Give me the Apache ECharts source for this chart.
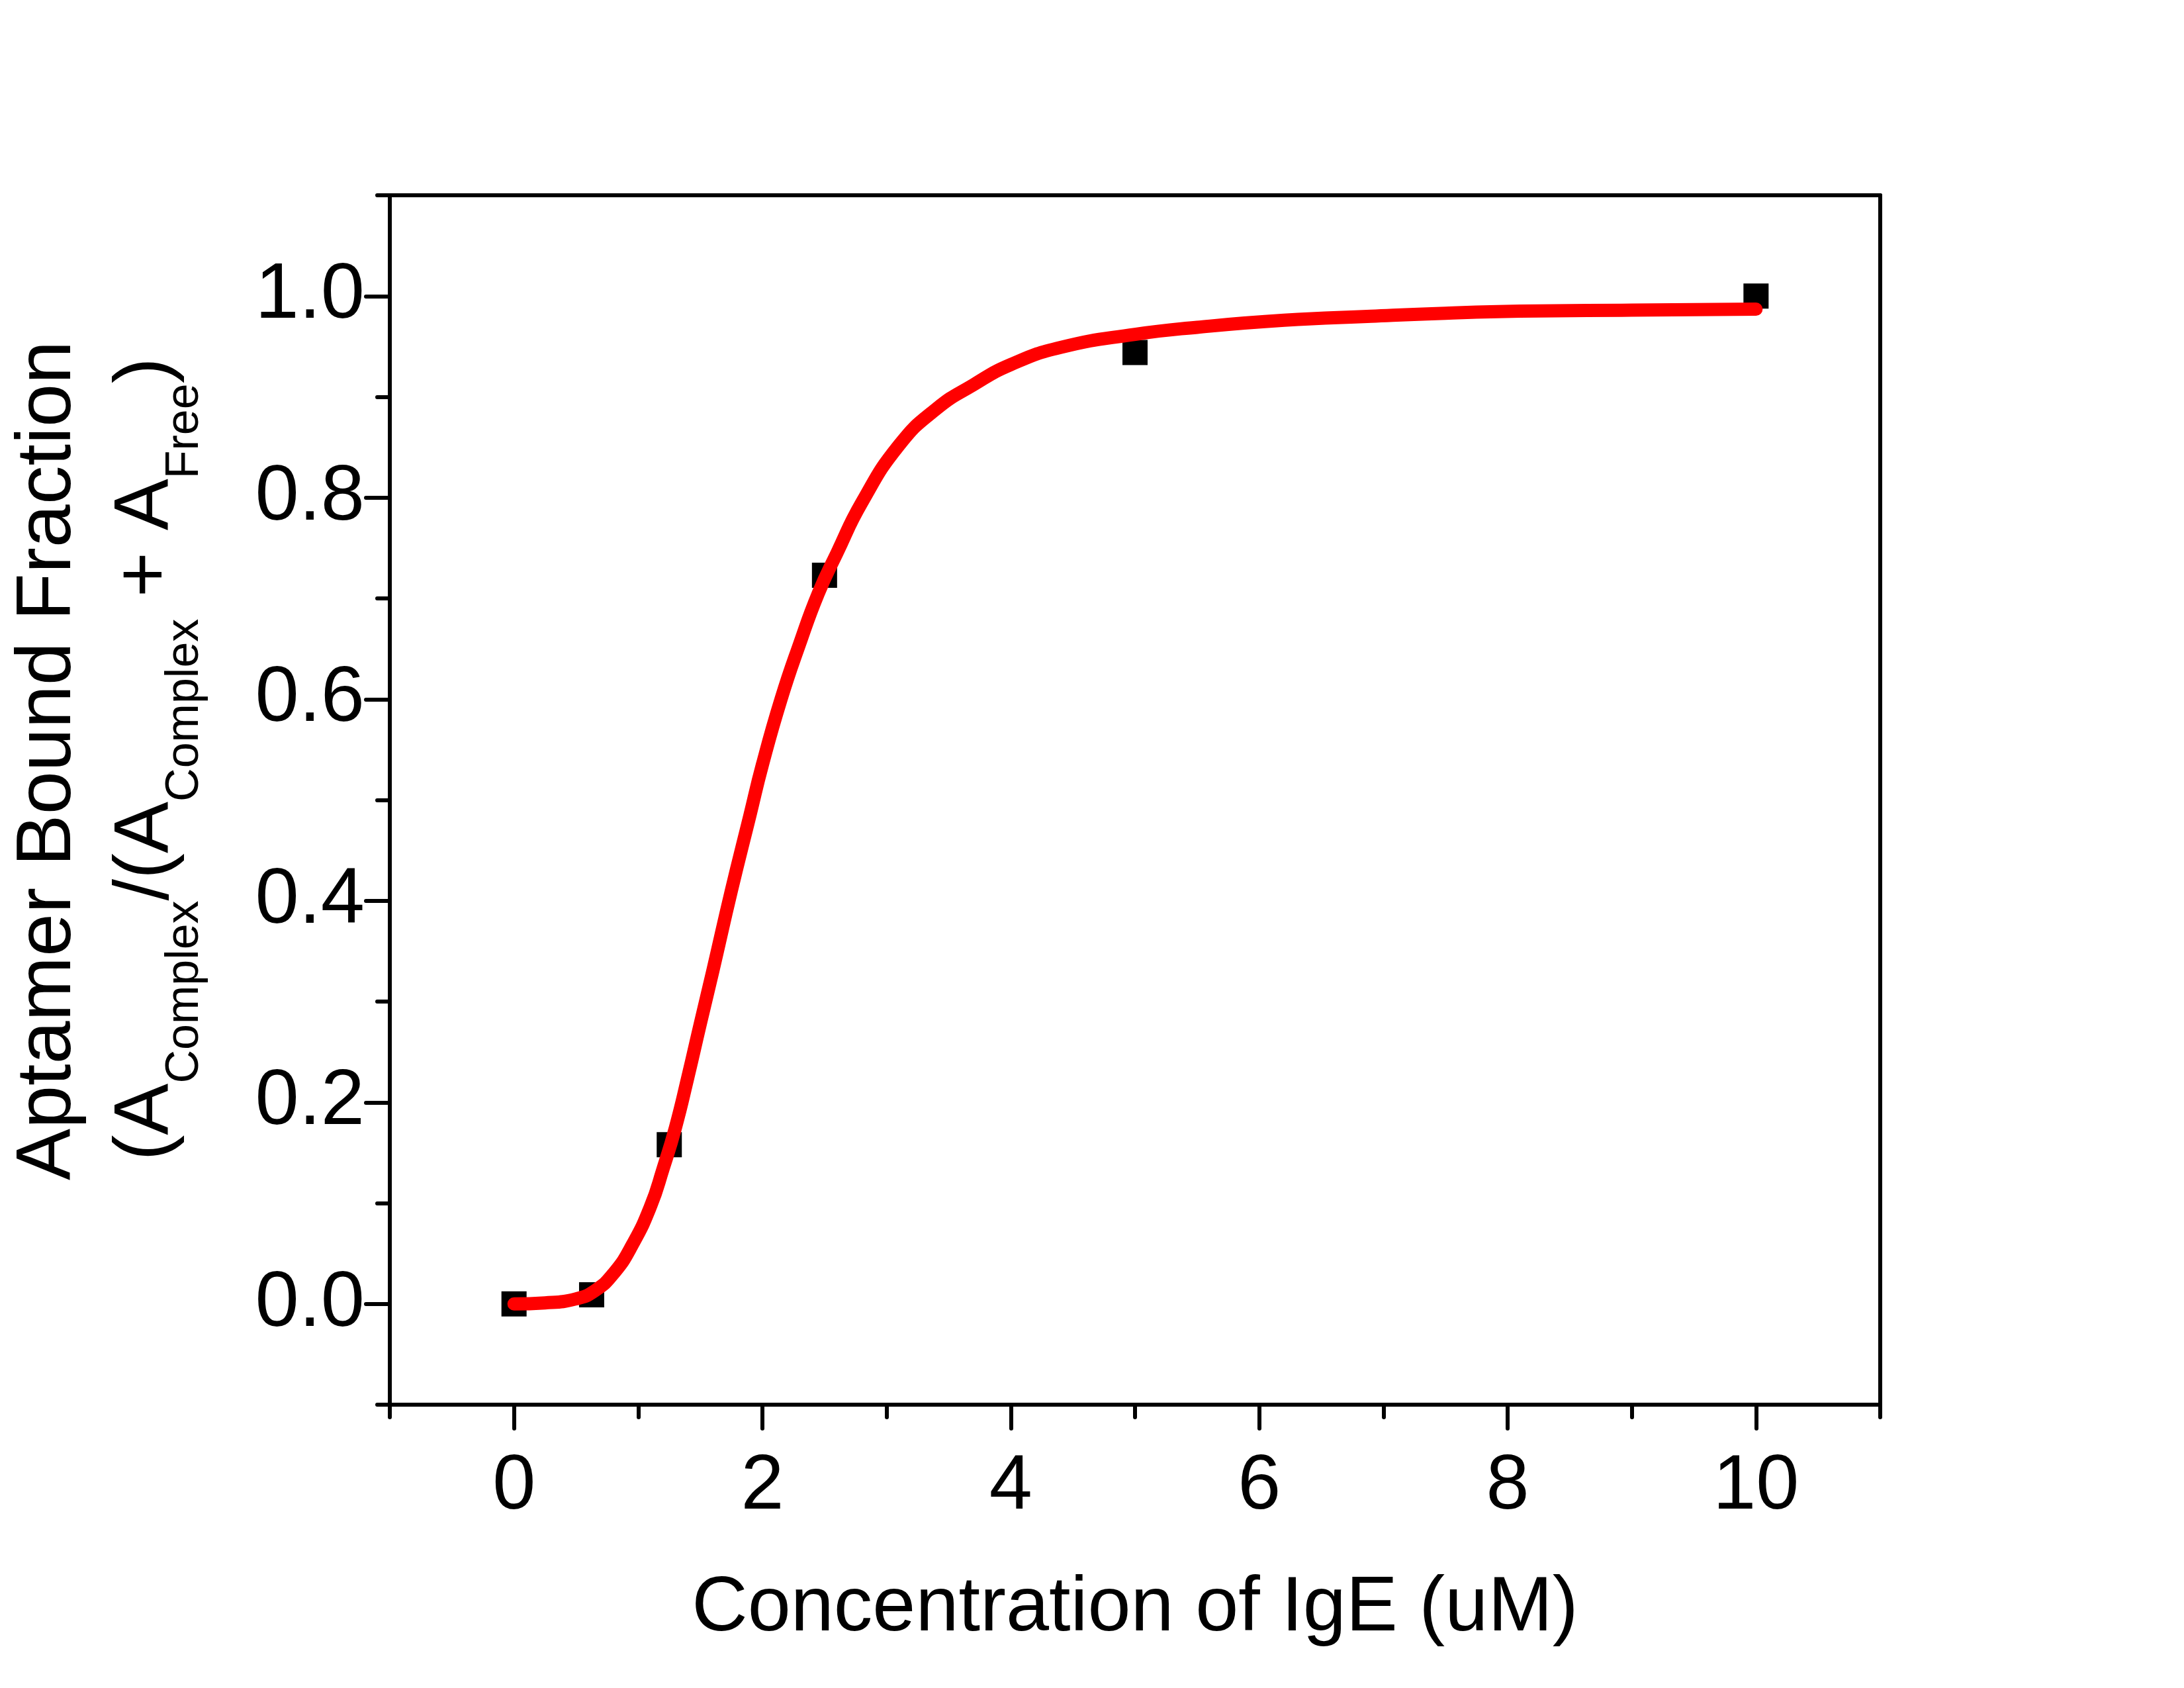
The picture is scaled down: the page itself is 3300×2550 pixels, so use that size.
<!DOCTYPE html>
<html><head><meta charset="utf-8">
<script src="https://cdn.jsdelivr.net/npm/echarts@6/dist/echarts.min.js"></script>
<style>html,body{margin:0;padding:0;background:#fff}#c{width:3300px;height:2550px}</style>
</head><body><div id="c"></div>
<script>
// measured data (squares)
const concentration = [0, 0.625, 1.25, 2.5, 5, 10];
const boundFraction = [0, 0.009, 0.158, 0.723, 0.944, 1.0];
// fitted curve
const fitX = [0, 0.25, 0.5, 0.65, 0.8, 0.95, 1.1, 1.2, 1.3, 1.4, 1.5, 1.6, 1.75, 1.9, 2.0, 2.15, 2.3, 2.45, 2.6, 2.8, 3.1, 3.4, 3.7, 4.0, 4.4, 5.0, 5.5, 6.2, 6.9, 7.5, 8.1, 9.0, 10];
const fitY = [0, 0.001, 0.005, 0.013, 0.03, 0.058, 0.097, 0.134, 0.175, 0.225, 0.278, 0.33, 0.41, 0.485, 0.535, 0.60, 0.655, 0.705, 0.745, 0.795, 0.852, 0.888, 0.912, 0.932, 0.949, 0.962, 0.969, 0.976, 0.980, 0.983, 0.985, 0.986, 0.987];
// ticks
const xMajorTicks = [0, 2, 4, 6, 8, 10];
const xMinorTicks = [-1, 1, 3, 5, 7, 9, 11];
const yMajorTicks = [0, 0.2, 0.4, 0.6, 0.8, 1.0];
const yMinorTicks = [-0.1, 0.1, 0.3, 0.5, 0.7, 0.9, 1.1];
const xTitle = 'Concentration of IgE (uM)';
const yTitleLine1 = 'Aptamer Bound Fraction';
const yTitleLine2 = '{m|(A}{s|Complex}{m|/(A}{s|Complex}{m| + A}{s|Free}{m|)}';

const FONT = '"Liberation Sans", Arial, sans-serif';
const AX = {color: '#000', width: 6};
const tickStyle = {color: '#000', width: 6, cap: 'round'};
const xr = {min: -1, max: 11}, yr = {min: -0.1, max: 1.1};

const chart = echarts.init(document.getElementById('c'), null, {renderer: 'canvas'});
chart.setOption({
  backgroundColor: '#fff',
  animation: false,
  grid: {left: 589, top: 295, width: 2252, height: 1827, containLabel: false, outerBoundsMode: 'none',
         show: false},
  xAxis: [
    {type: 'value', ...xr, position: 'bottom',
     axisLine: {show: true, onZero: false, lineStyle: AX},
     axisTick: {show: true, customValues: xMajorTicks, length: 36, lineStyle: tickStyle},
     axisLabel: {show: true, customValues: xMajorTicks, margin: 66, fontSize: 117, fontFamily: FONT, color: '#000',
                 formatter: v => String(v)},
     splitLine: {show: false},
     name: xTitle, nameLocation: 'middle', nameGap: 250, nameMoveOverlap: false,
     nameTextStyle: {fontSize: 117, fontFamily: FONT, color: '#000'}},
    {type: 'value', ...xr, position: 'bottom',
     axisLine: {show: false, onZero: false},
     axisTick: {show: true, customValues: xMinorTicks, length: 19, lineStyle: tickStyle},
     axisLabel: {show: false}, splitLine: {show: false}},
    {type: 'value', ...xr, position: 'top',
     axisLine: {show: true, onZero: false, lineStyle: AX},
     axisTick: {show: false}, axisLabel: {show: false}, splitLine: {show: false}}
  ],
  yAxis: [
    {type: 'value', ...yr, position: 'left',
     axisLine: {show: true, onZero: false, lineStyle: AX},
     axisTick: {show: true, customValues: yMajorTicks, length: 36, lineStyle: tickStyle},
     axisLabel: {show: true, customValues: yMajorTicks, margin: 38, fontSize: 119, fontFamily: FONT, color: '#000',
                 formatter: v => v.toFixed(1)},
     splitLine: {show: false}},
    {type: 'value', ...yr, position: 'left',
     axisLine: {show: false, onZero: false},
     axisTick: {show: true, customValues: yMinorTicks, length: 19, lineStyle: tickStyle},
     axisLabel: {show: false}, splitLine: {show: false}},
    {type: 'value', ...yr, position: 'right',
     axisLine: {show: true, onZero: false, lineStyle: AX},
     axisTick: {show: false}, axisLabel: {show: false}, splitLine: {show: false}}
  ],
  graphic: [
    {type: 'text', x: 74, y: 1149, rotation: Math.PI / 2,
     style: {text: yTitleLine1, fontSize: 117, fontFamily: FONT, fill: '#000',
             align: 'center', verticalAlign: 'middle', textAlign: 'center', textVerticalAlign: 'middle'}},
    {type: 'text', x: 163, y: 1147, rotation: Math.PI / 2,
     style: {text: yTitleLine2, fill: '#000', fontFamily: FONT,
             align: 'center', verticalAlign: 'top', textAlign: 'center', textVerticalAlign: 'top',
             rich: {
               m: {fontSize: 117, fontFamily: FONT, fill: '#000', color: '#000', lineHeight: 117, verticalAlign: 'top'},
               s: {fontSize: 70, fontFamily: FONT, fill: '#000', color: '#000', lineHeight: 70, padding: [82, 0, 0, 0], verticalAlign: 'top'}
             }}}
  ],
  series: [
    {type: 'scatter', name: 'data', xAxisIndex: 0, yAxisIndex: 0,
     data: concentration.map((x, i) => [x, boundFraction[i]]),
     symbol: 'rect', symbolSize: 38, itemStyle: {color: '#000', opacity: 1}, z: 2},
    {type: 'line', name: 'fit', xAxisIndex: 0, yAxisIndex: 0,
     data: fitX.map((x, i) => [x, fitY[i]]),
     showSymbol: false, symbol: 'none', smooth: 0.5,
     lineStyle: {color: '#ff0000', width: 20, cap: 'round', join: 'round'}, z: 3}
  ]
});
</script></body></html>
